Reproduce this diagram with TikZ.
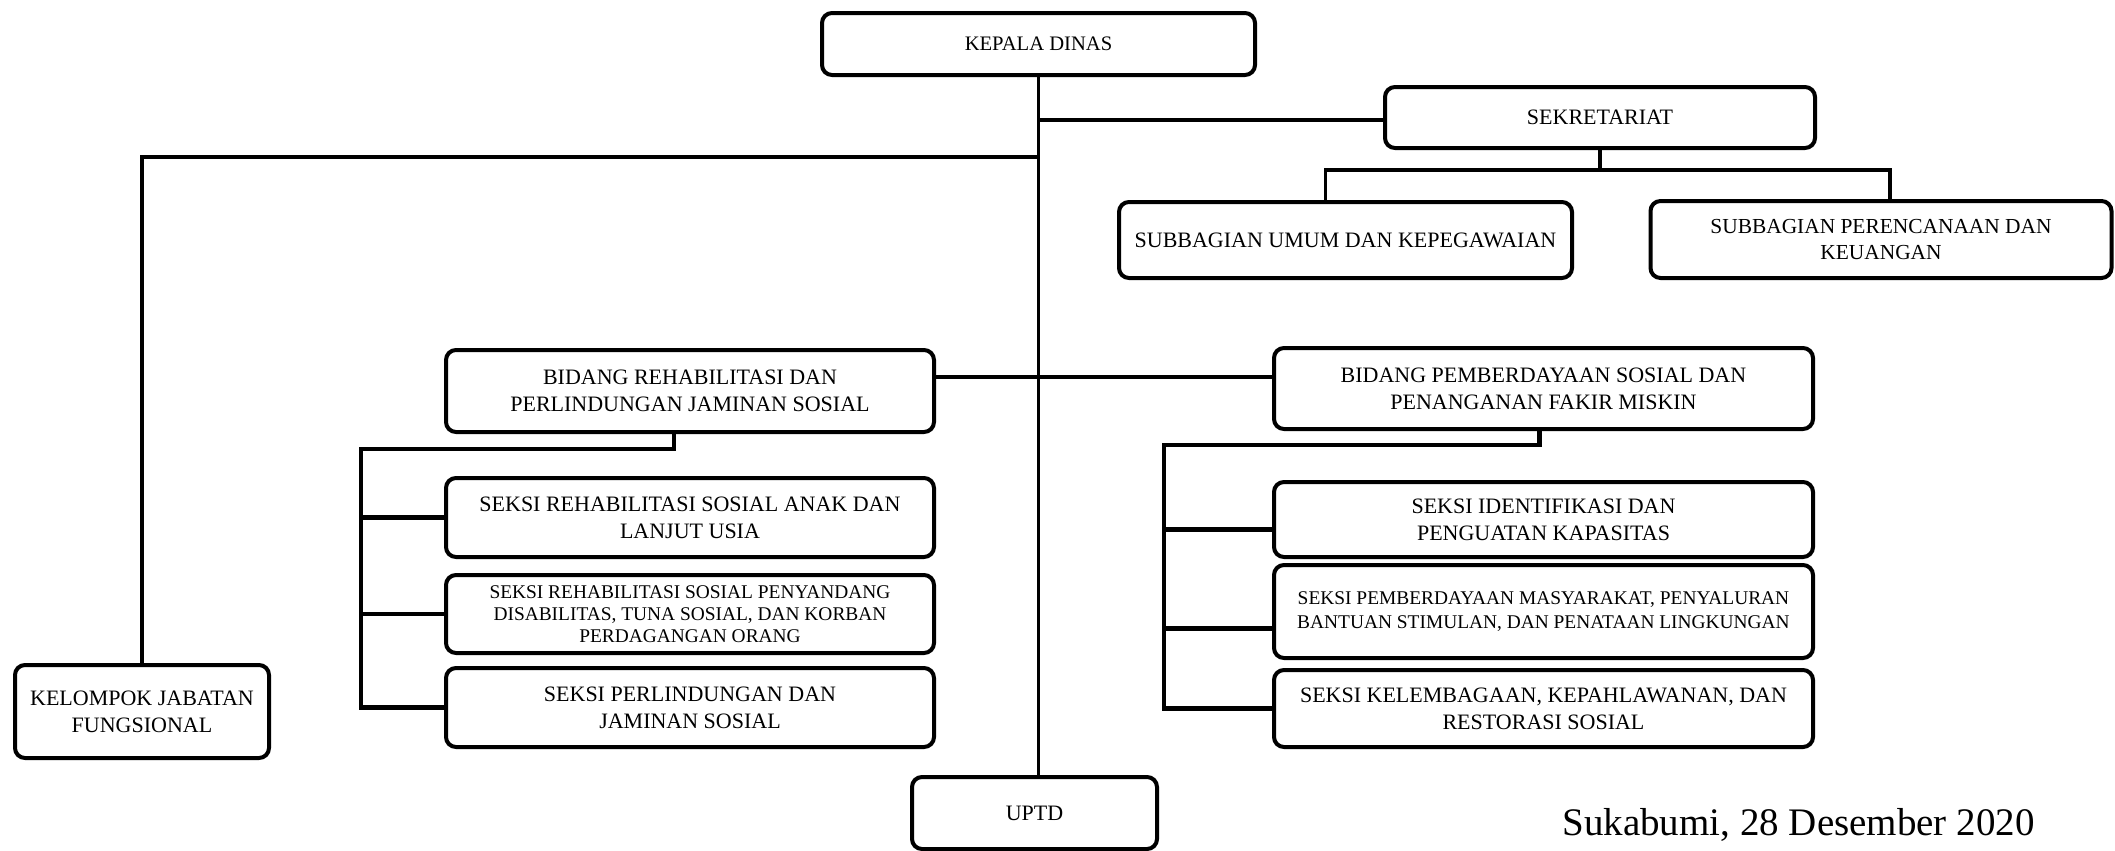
\documentclass[tikz,border=0pt]{standalone}
\usepackage{fontspec}
\setmainfont{Liberation Serif}
\usetikzlibrary{calc}
\begin{document}
\begin{tikzpicture}[x=0.5pt,y=-0.5pt,
  box/.style={draw, line width=2pt, rounded corners=5pt, align=center, inner sep=2pt,
    font=\fontsize{11}{13.5}\selectfont},
  smallbox/.style={box, font=\fontsize{9.7}{11}\selectfont},
  conn/.style={line width=1.7pt},
  grp/.style={line width=2.2pt}]
\useasboundingbox (0,0) rectangle (2115,851);

\node[box, minimum width=216.5pt, minimum height=31pt, font=\fontsize{10.3}{12}\selectfont] (kepala) at (1038.5,44) {KEPALA DINAS};
\node[box, minimum width=215pt, minimum height=30.5pt] (sekr) at (1600,117.5) {SEKRETARIAT};
\node[box, minimum width=226.5pt, minimum height=38pt] (subumum) at (1345.5,240) {SUBBAGIAN UMUM DAN KEPEGAWAIAN};
\node[box, minimum width=230.5pt, minimum height=38.5pt, font=\fontsize{10.7}{13}\selectfont] (subren) at (1881,239.5) {SUBBAGIAN PERENCANAAN DAN\\KEUANGAN};

\node[box, minimum width=244pt, minimum height=41pt] (bidrehab) at (690,391) {BIDANG REHABILITASI DAN\\PERLINDUNGAN JAMINAN SOSIAL};
\node[box, minimum width=244pt, minimum height=39.5pt] (s1) at (690,517.5) {SEKSI REHABILITASI SOSIAL ANAK DAN\\LANJUT USIA};
\node[smallbox, minimum width=244pt, minimum height=39pt] (s2) at (690,614) {SEKSI REHABILITASI SOSIAL PENYANDANG\\DISABILITAS, TUNA SOSIAL, DAN KORBAN\\PERDAGANGAN ORANG};
\node[box, minimum width=244pt, minimum height=39.5pt] (s3) at (690,707.5) {SEKSI PERLINDUNGAN DAN\\JAMINAN SOSIAL};

\node[box, minimum width=127pt, minimum height=46.5pt] (kel) at (142,711.5) {KELOMPOK JABATAN\\FUNGSIONAL};

\node[box, minimum width=269.5pt, minimum height=40.5pt] (bidpemb) at (1543.5,388.5) {BIDANG PEMBERDAYAAN SOSIAL DAN\\PENANGANAN FAKIR MISKIN};
\node[box, minimum width=269.5pt, minimum height=37.5pt] (s4) at (1543.5,519.5) {SEKSI IDENTIFIKASI DAN\\PENGUATAN KAPASITAS};
\node[box, minimum width=269.5pt, minimum height=46.5pt, font=\fontsize{9.7}{12}\selectfont] (s5) at (1543.5,611.5) {SEKSI PEMBERDAYAAN MASYARAKAT, PENYALURAN\\BANTUAN STIMULAN, DAN PENATAAN LINGKUNGAN};
\node[box, minimum width=269.5pt, minimum height=38.5pt] (s6) at (1543.5,708.5) {SEKSI KELEMBAGAAN, KEPAHLAWANAN, DAN\\RESTORASI SOSIAL};

\node[box, minimum width=122.5pt, minimum height=36pt] (uptd) at (1034.5,813) {UPTD};

\node[anchor=base west, inner sep=0pt, font=\fontsize{19.5}{23}\selectfont] (date) at (1562,835) {Sukabumi, 28 Desember 2020};

% trunk and main branches
\draw[conn] (kepala.south) -- (kepala.south |- uptd.north);
\coordinate (jS) at (1038.5,120);
\draw[conn] (jS) -- (sekr.west |- jS);
\coordinate (jL) at (1038.5,157);
\draw[conn] (jL) -| (kel.north);
\coordinate (jB) at (1038.5,377);
\draw[conn] (bidrehab.east |- jB) -- (bidpemb.west |- jB);

% sekretariat
\coordinate (jSub) at (1602,170);
\draw[conn] (sekr.south) -- (sekr.south |- jSub);
\draw[conn] ($(subumum.north)+(-20,0)$) |- (jSub) -| ($(subren.north)+(9,0)$);

% left group
\coordinate (gL) at (361,449);
\draw[grp] ($(bidrehab.south)+(-16,0)$) |- (gL) |- (s3.west);
\draw[grp] (gL |- s1.west) -- (s1.west);
\draw[grp] (gL |- s2.west) -- (s2.west);

% right group
\coordinate (gR) at (1164,445);
\draw[grp] ($(bidpemb.south)+(-4,0)$) |- (gR) |- (s6.west);
\coordinate (b4) at ($(s4.west)+(0,10)$);
\coordinate (b5) at ($(s5.west)+(0,17)$);
\draw[grp] (gR |- b4) -- (b4);
\draw[grp] (gR |- b5) -- (b5);
\end{tikzpicture}
\end{document}
